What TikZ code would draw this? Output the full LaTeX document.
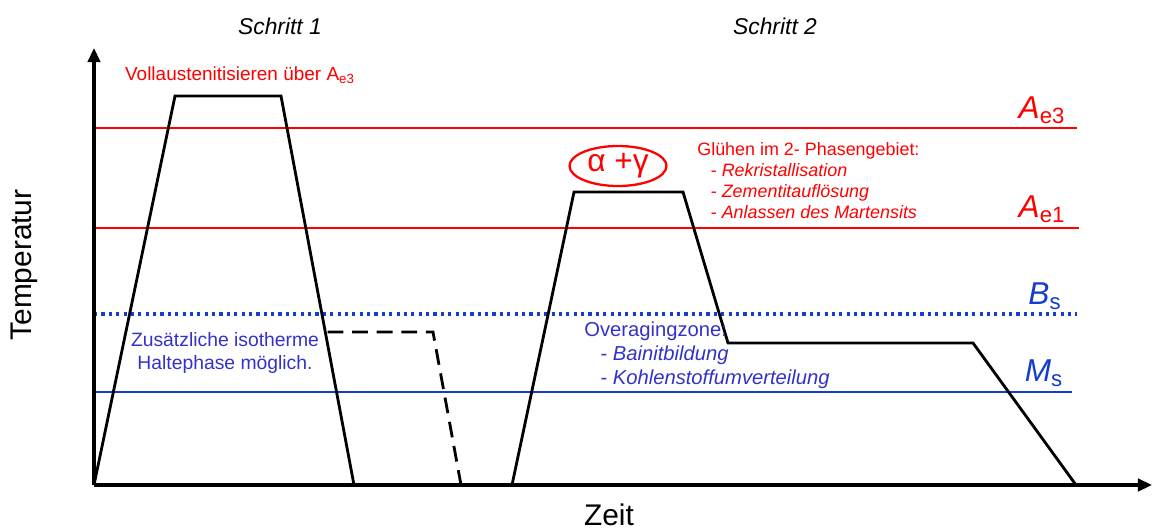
\documentclass[tikz,border=0pt]{standalone}
\usepackage{fontspec}
\setmainfont{Liberation Sans}
\usetikzlibrary{arrows.meta,shapes.geometric}
\definecolor{myred}{RGB}{255,0,0}
\definecolor{lineblue}{RGB}{20,60,205}
\definecolor{textblue}{RGB}{50,50,200}
\begin{document}
\begin{tikzpicture}[x=0.02cm,y=-0.02cm,
  axis/.style={line width=2.2pt,-{Triangle[length=8pt,width=7pt]}},
  curve/.style={line width=1.6pt,line join=miter},
  level/.style={line width=1.7pt},
  every node/.style={inner sep=0pt}]
\useasboundingbox (0,0) rectangle (1158,530);
% origin
\coordinate (O) at (94,485);
\coordinate (ytop) at (94,48);
\coordinate (xend) at (1152,485);
% levels
\draw[level,myred] (94,128) coordinate (ae3a) -- (1077,128) coordinate (ae3b);
\draw[level,myred] (94,228) coordinate (ae1a) -- (1079,228) coordinate (ae1b);
\draw[level,lineblue,line width=1.8pt,dash pattern=on 1.8pt off 2.4pt] (94,314) coordinate (bsa) -- (1077,314) coordinate (bsb);
\draw[level,lineblue] (94,392) coordinate (msa) -- (1072,392) coordinate (msb);
% step 1
\coordinate (p1) at (175,96);
\coordinate (p2) at (281,96);
\coordinate (p3) at (354,485);
\draw[curve] (O) -- (p1) -- (p2) -- (p3);
\coordinate (d0) at (327.5,332);
\coordinate (d1) at (433,332);
\coordinate (d2) at (461,485);
\draw[curve,dash pattern=on 9pt off 5pt] (d0) -- (d1) -- (d2);
% step 2
\coordinate (q0) at (512,485);
\coordinate (q1) at (574,192);
\coordinate (q2) at (683,192);
\coordinate (q3) at (728,343);
\coordinate (q4) at (973,343);
\coordinate (q5) at (1076,485);
\draw[curve] (q0) -- (q1) -- (q2) -- (q3) -- (q4) -- (q5);
% axes
\draw[axis] (O) -- (ytop);
\draw[axis] (O) -- (xend);
% texts
\node[font=\fontsize{13}{15}\selectfont\itshape] (s1) at (280,26) {Schritt 1};
\node[font=\fontsize{13}{15}\selectfont\itshape] (s2) at (775,26) {Schritt 2};
\node[text=myred,font=\fontsize{10.8}{13}\selectfont] (voll) at (240,75) {Vollaustenitisieren über A\textsubscript{e3}};
\node[myred,font=\fontsize{18}{20}\selectfont\itshape] (lae3) at (1042,110) {A\textsubscript{\upshape e3}};
\node[myred,font=\fontsize{18}{20}\selectfont\itshape] (lae1) at (1042,209) {A\textsubscript{\upshape e1}};
\node[lineblue,font=\fontsize{18}{20}\selectfont\itshape] (lbs) at (1045,296) {B\textsubscript{\upshape s}};
\node[lineblue,font=\fontsize{18}{20}\selectfont\itshape] (lms) at (1044,373) {M\textsubscript{\upshape s}};
\node[myred,draw,ellipse,line width=1.3pt,minimum width=1.94cm,minimum height=0.8cm,font=\fontsize{18}{20}\selectfont] (ag) at (618,166) {α +γ};
\node[text=myred,anchor=north west,align=left,font=\fontsize{10.2}{12}\selectfont] (gl) at (697,142) {Glühen im 2- Phasengebiet:\\
\hspace{0.75em}- \itshape Rekristallisation\\
\hspace{0.75em}- \itshape Zementitauflösung\\
\hspace{0.75em}- \itshape Anlassen des Martensits};
\node[anchor=north west,align=left,text=textblue,font=\fontsize{11.5}{13.6}\selectfont] (ov) at (584,322) {Overagingzone:\\
\hspace{0.8em}- \itshape Bainitbildung\\
\hspace{0.8em}- \itshape Kohlenstoffumverteilung};
\node[align=center,text=textblue,font=\fontsize{11}{13}\selectfont] (zus) at (225,353) {Zusätzliche isotherme\\Haltephase möglich.};
\node[font=\fontsize{17}{19}\selectfont] (zeit) at (609,515) {Zeit};
\node[rotate=90,font=\fontsize{17}{19}\selectfont] (temp) at (24,265) {Temperatur};
\end{tikzpicture}
\end{document}
